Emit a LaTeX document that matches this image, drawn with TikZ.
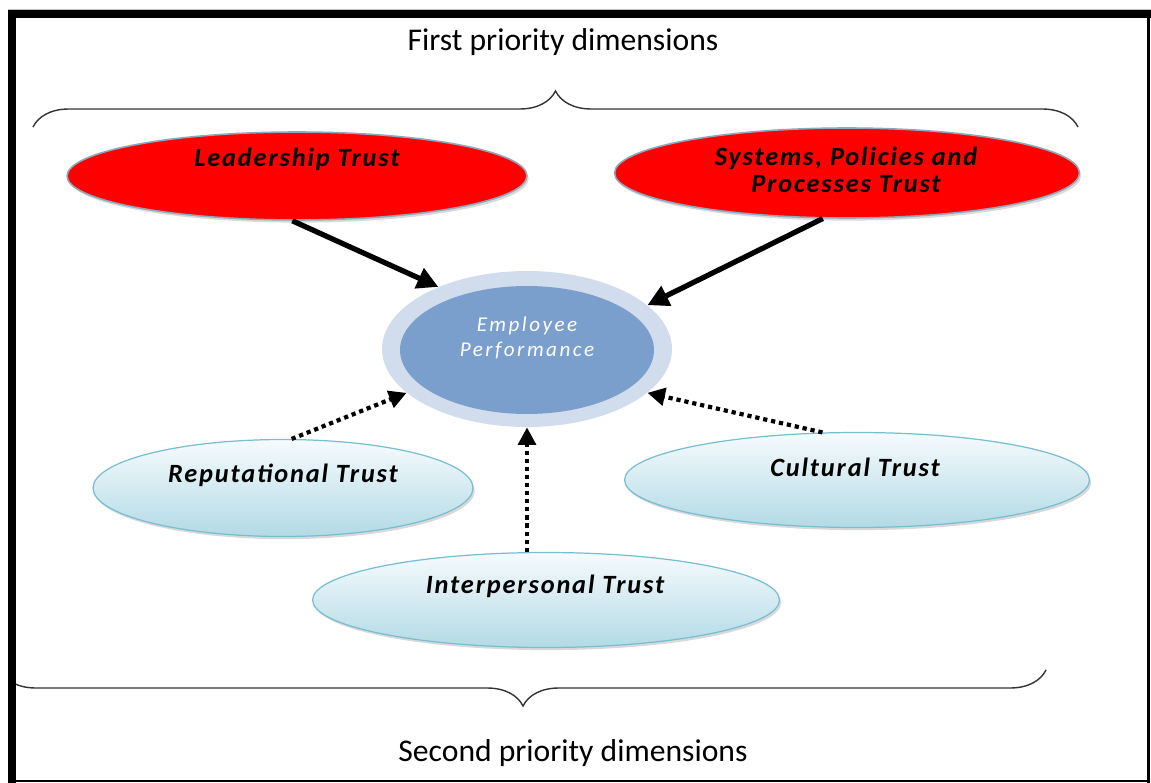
\documentclass[tikz,border=0pt]{standalone}
\usepackage{fontspec}
\setmainfont{Carlito}
\usetikzlibrary{arrows.meta,shapes.geometric,shadows,decorations.pathreplacing}

\definecolor{redrim}{RGB}{140,170,185}
\definecolor{paletop}{RGB}{246,251,253}
\definecolor{palebot}{RGB}{178,218,229}
\definecolor{palerim}{RGB}{120,190,210}
\definecolor{ringblue}{RGB}{209,220,237}
\definecolor{coreblue}{RGB}{123,159,204}

\begin{document}
\begin{tikzpicture}[x=0.02cm,y=-0.02cm,
  firstdim/.style={ellipse,draw=redrim,line width=0.9pt,fill=red,
    drop shadow={shadow xshift=1pt,shadow yshift=-1.5pt,opacity=.3}},
  seconddim/.style={ellipse,draw=palerim,line width=0.7pt,top color=paletop,bottom color=palebot,
    drop shadow={shadow xshift=1pt,shadow yshift=-1.5pt,opacity=.3}},
  trust/.style={font=\fontsize{15}{15}\selectfont\bfseries\itshape\addfontfeatures{LetterSpace=7},align=center},
  perf/.style={font=\fontsize{12}{14.5}\selectfont\itshape\addfontfeatures{LetterSpace=12},text=white,align=center},
  heading/.style={font=\fontsize{18}{20}\selectfont},
  main/.style={-{Triangle[length=12pt,width=12pt]},line width=3pt},
  minor/.style={-{Triangle[length=10pt,width=10pt]},line width=2.4pt,dash pattern=on 2.4pt off 2.2pt},
  dimbrace/.style={decorate,decoration={brace,amplitude=0.72cm},line width=0.8pt,draw=black!80}]
\useasboundingbox (0,0) rectangle (1151,783);
% headings and braces
\node[heading] (first) at (563,42) {First priority dimensions};
\node[heading] (second) at (573,753) {Second priority dimensions};
\draw[dimbrace] (33,127) -- (1078,127);
\begin{scope}
\clip (16,0) rectangle (1151,783);
\draw[dimbrace,decoration={mirror}] (0,670) -- (1046,670);
\end{scope}
% first priority
\node[firstdim,minimum width=9.2cm,minimum height=1.76cm] (lead) at (297,176) {};
\node[trust] (lead-t) at (297,159) {Leadership Trust};
\node[firstdim,minimum width=9.3cm,minimum height=1.8cm] (sys) at (847,173) {};
\node[trust] (sys-t) at (846,170) {Systems, Policies and\\Processes Trust};
% employee performance
\node[ellipse,fill=ringblue,minimum width=5.8cm,minimum height=3.12cm] (ring) at (527,349) {};
\node[ellipse,fill=coreblue,minimum width=5.08cm,minimum height=2.56cm] (core) at (527,350) {};
\node[perf] (core-t) at (527,338) {Employee\\Performance};
% second priority
\node[seconddim,minimum width=7.6cm,minimum height=1.94cm] (rep) at (283,488) {};
\node[trust] (rep-t) at (283,475) {Reputational Trust};
\node[seconddim,minimum width=9.3cm,minimum height=1.9cm] (cult) at (857,480) {};
\node[trust] (cult-t) at (855,467) {Cultural Trust};
\node[seconddim,minimum width=9.34cm,minimum height=1.9cm] (inter) at (546,600) {};
\node[trust] (inter-t) at (545,586) {Interpersonal Trust};
% arrows
\draw[main] (lead.264) -- (ring.145);
\draw[main] (sys.242) -- (ring.20);
\draw[minor] (rep.80) -- (ring.200);
\draw[minor] (cult.126) -- (ring.340);
\draw[minor] (ring.south |- inter.north) -- (ring.south);
% frame
\draw[black!25] (8,9) -- (1151,9);
\fill (8,10) rectangle (16,783);
\fill (8,10) rectangle (1151,18);
\fill (1147,10) rectangle (1150,783);
\fill (8,780) rectangle (1150,782);
\end{tikzpicture}
\end{document}
